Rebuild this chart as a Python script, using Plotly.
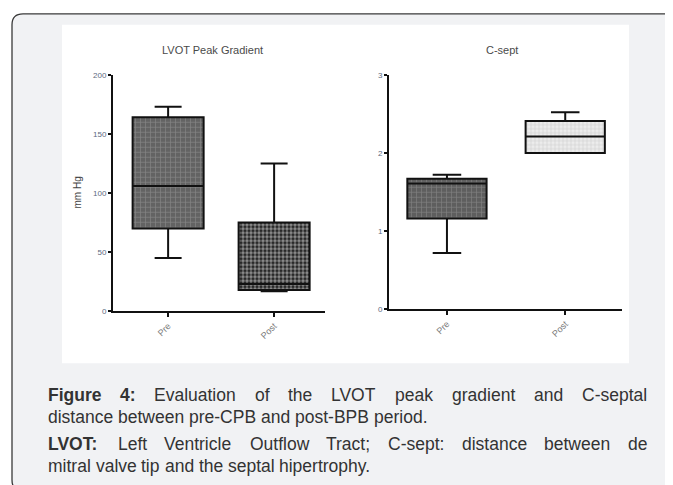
import plotly.graph_objects as go

# The page body has an 8px default margin, so figure coords = reference coords - 8
OFF = 8
W, H = 673 - OFF, 485 - OFF

# ---------------- data ----------------
groups = ["Pre", "Post"]

lvot_low = [45, 17]
lvot_q1 = [70, 18]
lvot_median = [106, 23]
lvot_q3 = [164, 75]
lvot_high = [173, 125]

csept_low = [0.72, 2.0]
csept_q1 = [1.16, 2.0]
csept_median = [1.61, 2.21]
csept_q3 = [1.67, 2.41]
csept_high = [1.72, 2.52]

lvot_ticks = [0, 50, 100, 150, 200]
csept_ticks = [0, 1, 2, 3]

# caption: list of (words, bold flags, justified?)
caption_lines = [
    (["Figure", "4:", "Evaluation", "of", "the", "LVOT", "peak", "gradient", "and", "C-septal"],
     [True, True] + [False] * 8, True),
    (["distance", "between", "pre-CPB", "and", "post-BPB", "period."], [False] * 6, False),
    (["LVOT:", "Left", "Ventricle", "Outflow", "Tract;", "C-sept:", "distance", "between", "de"],
     [True] + [False] * 8, True),
    (["mitral", "valve", "tip", "and", "the", "septal", "hipertrophy."], [False] * 7, False),
]
caption_y = [398, 421, 448, 471]


def px(x):
    return (x - OFF) / W


def py(y):
    return 1 - (y - OFF) / H


FONT = "Liberation Sans, Arial, sans-serif"

# Arial / Liberation Sans advance widths (per 1000 em)
REG = dict(zip("abcdefghijklmnopqrstuvwxyz",
               [556, 556, 500, 556, 556, 278, 556, 556, 222, 222, 500, 222, 833,
                556, 556, 556, 556, 333, 500, 278, 556, 500, 722, 500, 500, 500]))
REG.update({"A": 667, "B": 667, "C": 722, "D": 722, "E": 667, "F": 611, "G": 778, "H": 722,
            "I": 278, "L": 556, "O": 778, "P": 667, "R": 722, "S": 667, "T": 611, "V": 667,
            "W": 944, ":": 278, ";": 278, "-": 333, ".": 278, " ": 278, "4": 556})
BOLD = dict(zip("abcdefghijklmnopqrstuvwxyz",
                [556, 611, 556, 611, 556, 333, 611, 611, 278, 278, 556, 278, 889,
                 611, 611, 611, 611, 389, 556, 333, 611, 556, 778, 556, 556, 500]))
BOLD.update({"F": 611, "L": 611, "V": 667, "O": 778, "T": 611, ":": 333, "4": 556, " ": 278})


def text_width(s, bold, size):
    table = BOLD if bold else REG
    return sum(table.get(c, 556) for c in s) * size / 1000


fig = go.Figure()

patterns_left = [
    dict(shape="+", fgcolor="#a8a8a8", bgcolor="#636363", size=5, solidity=0.25),
    dict(shape=".", fgcolor="#f2f2f2", bgcolor="#1e1e1e", size=4, solidity=0.6),
]
patterns_right = [
    dict(shape="+", fgcolor="#a0a0a0", bgcolor="#5e5e5e", size=5, solidity=0.25),
    dict(shape="+", fgcolor="#b8b8b8", bgcolor="#ececec", size=4, solidity=0.3),
]

# pattern fills behind the boxes
for i, g in enumerate(groups):
    fig.add_trace(go.Bar(
        x=[g], y=[lvot_q3[i] - lvot_q1[i]], base=[lvot_q1[i]], width=0.67,
        marker=dict(color=patterns_left[i]["bgcolor"], pattern=patterns_left[i], line=dict(width=0)),
        xaxis="x", yaxis="y", showlegend=False, hoverinfo="skip"))
    fig.add_trace(go.Bar(
        x=[g], y=[csept_q3[i] - csept_q1[i]], base=[csept_q1[i]], width=0.67,
        marker=dict(color=patterns_right[i]["bgcolor"], pattern=patterns_right[i], line=dict(width=0)),
        xaxis="x2", yaxis="y2", showlegend=False, hoverinfo="skip"))

fig.add_trace(go.Box(
    x=groups, q1=lvot_q1, median=lvot_median, q3=lvot_q3,
    lowerfence=lvot_low, upperfence=lvot_high,
    width=0.67, whiskerwidth=0.38, fillcolor="rgba(0,0,0,0)",
    line=dict(color="#111111", width=2), boxpoints=False,
    xaxis="x", yaxis="y", showlegend=False))

fig.add_trace(go.Box(
    x=groups, q1=csept_q1, median=csept_median, q3=csept_q3,
    lowerfence=csept_low, upperfence=csept_high,
    width=0.67, whiskerwidth=0.36, fillcolor="rgba(0,0,0,0)",
    line=dict(color="#111111", width=2), boxpoints=False,
    xaxis="x2", yaxis="y2", showlegend=False))

tickfont_y = dict(family=FONT, size=8, color="#5d6b80")
tickfont_x = dict(family=FONT, size=9, color="#7a7a7a")

common_x = dict(type="category", showline=True, linecolor="#111111", linewidth=2,
                ticks="outside", ticklen=4, tickwidth=2, tickcolor="#111111",
                tickangle=-45, tickfont=tickfont_x, showgrid=False, zeroline=False,
                fixedrange=True)
common_y = dict(showline=True, linecolor="#111111", linewidth=2,
                ticks="outside", ticklen=3, tickwidth=1.5, tickcolor="#111111",
                tickfont=tickfont_y, showgrid=False, zeroline=False, fixedrange=True)

fig.update_layout(
    width=W, height=H,
    margin=dict(l=0, r=0, t=0, b=0),
    paper_bgcolor="white", plot_bgcolor="rgba(0,0,0,0)",
    barmode="overlay", boxmode="overlay",
    xaxis=dict(common_x, domain=[px(113), px(325)], range=[-0.52, 1.48], anchor="y"),
    yaxis=dict(common_y, domain=[py(313), py(72)], range=[0, 200], tickvals=lvot_ticks,
               anchor="x"),
    xaxis2=dict(common_x, domain=[px(389), px(622)], range=[-0.49, 1.48], anchor="y2"),
    yaxis2=dict(common_y, domain=[py(311), py(72)], range=[0, 3], tickvals=csept_ticks, anchor="x2"),
)

# panel and white chart area
r = 11
x0, y0, x1, y1 = 12, 10, 684, 496
path = (f"M {px(x0)} {py(y0 + r)} Q {px(x0)} {py(y0)} {px(x0 + r)} {py(y0)} "
        f"L {px(x1 - r)} {py(y0)} Q {px(x1)} {py(y0)} {px(x1)} {py(y0 + r)} "
        f"L {px(x1)} {py(y1 - r)} Q {px(x1)} {py(y1)} {px(x1 - r)} {py(y1)} "
        f"L {px(x0 + r)} {py(y1)} Q {px(x0)} {py(y1)} {px(x0)} {py(y1 - r)} Z")
fig.add_shape(type="path", path=path, xref="paper", yref="paper",
              fillcolor="#f1f2f4", line=dict(color="#3a3a3a", width=1.3), layer="below")
fig.add_shape(type="rect", xref="paper", yref="paper",
              x0=px(62), x1=px(629), y0=py(366), y1=py(21),
              fillcolor="white", line=dict(width=0), layer="below")

title_font = dict(family=FONT, size=11, color="#4a4a4a")
fig.add_annotation(text="LVOT Peak Gradient", x=px(212), y=py(47), xref="paper", yref="paper",
                   showarrow=False, font=title_font, xanchor="center", yanchor="middle")
fig.add_annotation(text="C-sept", x=px(502), y=py(47), xref="paper", yref="paper",
                   showarrow=False, font=title_font, xanchor="center", yanchor="middle")
fig.add_annotation(text="mm Hg", x=px(78), y=py(192), xref="paper", yref="paper",
                   showarrow=False, textangle=-90, font=dict(family=FONT, size=10, color="#444444"),
                   xanchor="center", yanchor="middle")

# caption, justified like the reference
CAP_SIZE = 17.5
cap_color = "#333333"
left_x, right_x = 46, 645
for (words, bolds, justified), yy in zip(caption_lines, caption_y):
    widths = [text_width(w, b, CAP_SIZE) for w, b in zip(words, bolds)]
    if justified:
        gap = (right_x - left_x - sum(widths)) / (len(words) - 1)
    else:
        gap = text_width(" ", False, CAP_SIZE)
    xpos = left_x
    for w, b, wd in zip(words, bolds, widths):
        txt = f"<b>{w}</b>" if b else w
        fig.add_annotation(text=txt, x=px(xpos), y=py(yy), xref="paper", yref="paper",
                           showarrow=False, font=dict(family=FONT, size=CAP_SIZE, color=cap_color),
                           xanchor="left", yanchor="middle", align="left")
        xpos += wd + gap

fig.write_html("out.html")
